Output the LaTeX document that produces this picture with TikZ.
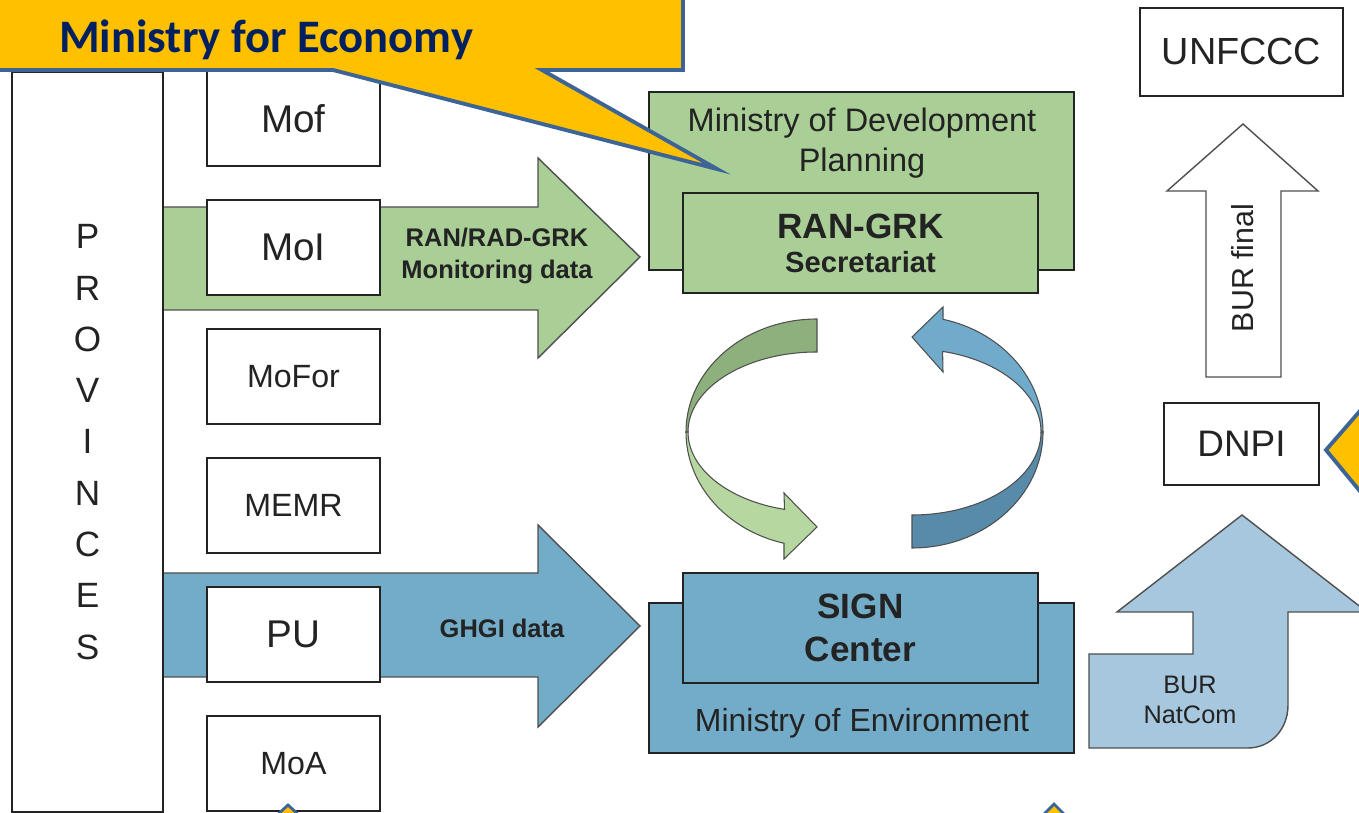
\documentclass[tikz,border=0pt]{standalone}
\usepackage{fontspec}
\setmainfont{Liberation Sans}
\newfontfamily\calloutfont{Carlito}
\usepackage{xcolor}
\usetikzlibrary{calc,positioning}
\definecolor{ranfill}{RGB}{169,206,150}
\definecolor{signfill}{RGB}{115,172,201}
\definecolor{natcomfill}{RGB}{166,199,221}
\definecolor{loopgreenA}{RGB}{141,176,124}
\definecolor{loopgreenB}{RGB}{183,215,160}
\definecolor{loopblueA}{RGB}{112,171,204}
\definecolor{loopblueB}{RGB}{88,139,170}
\definecolor{calloutfill}{RGB}{255,192,0}
\definecolor{calloutline}{RGB}{60,100,150}
\definecolor{callouttext}{RGB}{0,32,96}
\definecolor{ink}{RGB}{35,35,35}
\tikzstyle{minbox}=[draw=ink, line width=1pt, fill=white, inner sep=0pt, minimum width=3.46cm, minimum height=1.9cm, text=ink]
\tikzstyle{bigtxt}=[font=\fontsize{22}{26}\selectfont]
\tikzstyle{smalltxt}=[font=\fontsize{18.3}{22}\selectfont]
\tikzstyle{orgbox}=[draw=ink, line width=1pt, inner sep=0pt, text=ink, align=center]
\tikzstyle{flow}=[draw=ink!80, line width=0.8pt, line join=miter]
\tikzstyle{flowtxt}=[text=ink, align=center, font=\bfseries\fontsize{14.5}{18}\selectfont]
\tikzstyle{loopband}=[draw=ink!80, line width=0.6pt, line join=miter]
\tikzstyle{callout}=[fill=calloutfill, draw=calloutline, line width=2.2pt, line join=miter]
\newcommand{\loopRout}{131}
\newcommand{\loopRin}{129}

\begin{document}
\begin{tikzpicture}[x=0.02cm,y=-0.02cm]
\useasboundingbox (0,0) rectangle (1359,813);
\clip (0,0) rectangle (1359,813);

\draw[flow, fill=ranfill] (162,207) -- (538,207) -- (538,158) -- (640,257) -- (538,358) -- (538,310) -- (162,310) -- cycle;
\draw[flow, fill=signfill] (162,573) -- (538,573) -- (538,525) -- (640,626) -- (538,727) -- (538,677) -- (162,677) -- cycle;

\node[orgbox, fill=white, minimum width=3.02cm, minimum height=14.8cm] (prov) at (87.5,442) {};
\node[text=ink, align=center, font=\fontsize{20}{29.2}\selectfont] (provtxt) at (prov.center) {P\\R\\O\\V\\I\\N\\C\\E\\S};

\node[minbox, bigtxt] (mof) at (293.5,118.5) {Mof};
\node[minbox, bigtxt, below=0.645cm of mof] (moi) {MoI};
\node[minbox, smalltxt, below=0.645cm of moi] (mofor) {MoFor};
\node[minbox, smalltxt, below=0.645cm of mofor] (memr) {MEMR};
\node[minbox, bigtxt, below=0.645cm of memr] (pu) {PU};
\node[minbox, smalltxt, below=0.645cm of pu] (moa) {MoA};

\node[flowtxt] (randata) at (497,256) {RAN/RAD-GRK\\Monitoring data};
\node[flowtxt] (ghgi) at (502,628) {GHGI data};

\node[orgbox, fill=ranfill, minimum width=8.5cm, minimum height=3.56cm] (devplan) at (861.5,181) {};
\node[text=ink, align=center, font=\fontsize{18.5}{22.8}\selectfont] (devplantxt) at (862,143) {Ministry of Development\\Planning};
\node[orgbox, fill=ranfill, minimum width=7.1cm, minimum height=2cm, font=\bfseries\fontsize{20}{19.4}\selectfont] (rangrk) at (860.5,243) {RAN-GRK\\\fontsize{16.6}{19.4}\selectfont Secretariat};

\node[orgbox, fill=signfill, minimum width=8.5cm, minimum height=3cm] (moe) at (861.5,678) {};
\node[text=ink, font=\fontsize{18.2}{22}\selectfont] (moetxt) at (862,723) {Ministry of Environment};
\node[orgbox, fill=signfill, minimum width=7.1cm, minimum height=2.2cm, font=\bfseries\fontsize{20}{24.5}\selectfont] (sign) at (860.5,628) {SIGN\\Center};

\draw[loopband, fill=loopgreenA] (817,319) arc[start angle=270, end angle=180, x radius=\loopRout, y radius=113] -- (688,432) arc[start angle=180, end angle=270, x radius=\loopRin, y radius=80] -- cycle;
\draw[loopband, fill=loopgreenB] (686,432) arc[start angle=180, end angle=104.6, x radius=\loopRout, y radius=115] -- (784,559) -- (817,527) -- (784,493) -- (784.5,509.4) arc[start angle=104.6, end angle=180, x radius=\loopRin, y radius=80] -- cycle;
\draw[loopband, fill=loopblueB] (912,548) arc[start angle=90, end angle=0, x radius=\loopRout, y radius=116] -- (1041,432) arc[start angle=0, end angle=90, x radius=\loopRin, y radius=83] -- cycle;
\draw[loopband, fill=loopblueA] (1043,432) arc[start angle=0, end angle=-76.3, x radius=\loopRout, y radius=116] -- (943,307) -- (912,337) -- (943,372) -- (942.6,351.4) arc[start angle=-76.3, end angle=0, x radius=\loopRin, y radius=83] -- cycle;

\node[orgbox, fill=white, minimum width=4.06cm, minimum height=1.76cm, font=\fontsize{21.5}{26}\selectfont] (unfccc) at (1241.5,52) {UNFCCC};
\node[orgbox, fill=white, minimum width=3.1cm, minimum height=1.64cm, font=\fontsize{21}{26}\selectfont] (dnpi) at (1241.5,444) {DNPI};

\draw[flow, fill=white] (1206,377) -- (1206,191) -- (1167,191) -- (1243,124) -- (1318,191) -- (1281,191) -- (1281,377) -- cycle;
\node[rotate=90, text=ink, font=\fontsize{17.3}{20}\selectfont] (burfinal) at (1243,268) {BUR final};

\draw[flow, fill=natcomfill] (1089,654) -- (1193,654) -- (1193,612) -- (1117,612) -- (1242,515) -- (1367,612) -- (1288,612) -- (1288,705) .. controls (1288,730) and (1270,748) .. (1248,748) -- (1089,748) -- cycle;
\node[text=ink, align=center, font=\fontsize{14.4}{17}\selectfont] (burnatcom) at (1190,700) {BUR\\NatCom};

\draw[callout] (-20,-20) -- (683,-20) -- (683,70) -- (542,70) -- (717,169) -- (333,70) -- (-20,70) -- cycle;
\node[anchor=base west, text=callouttext, font=\calloutfont\bfseries\fontsize{26.5}{30}\selectfont] (mfe) at (53,53) {Ministry for Economy};
\draw[callout] (1420,342) -- (1326,450) -- (1420,564) -- cycle;
\draw[callout, line width=1.6pt] (274,818) -- (288,805) -- (302,818) -- cycle;
\draw[callout, line width=1.6pt] (1040,818) -- (1054,804) -- (1068,818) -- cycle;
\end{tikzpicture}
\end{document}
